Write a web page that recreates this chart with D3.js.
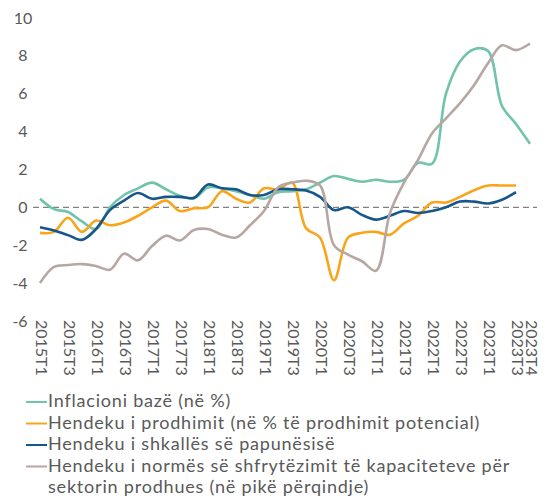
<!DOCTYPE html>
<html>
<head>
<meta charset="utf-8">
<script src="https://cdn.jsdelivr.net/npm/d3@7"></script>
<style>
  body { margin: 0; background: #fff; }
  svg { display: block; font-family: Lato, "Open Sans", sans-serif; }
</style>
</head>
<body>
<div id="chart"><svg></svg></div>
<script>
var quarters = ["2015T1","2015T2","2015T3","2015T4","2016T1","2016T2","2016T3","2016T4",
    "2017T1","2017T2","2017T3","2017T4","2018T1","2018T2","2018T3","2018T4",
    "2019T1","2019T2","2019T3","2019T4","2020T1","2020T2","2020T3","2020T4",
    "2021T1","2021T2","2021T3","2021T4","2022T1","2022T2","2022T3","2022T4",
    "2023T1","2023T2","2023T3","2023T4"];

var tickLabels = ["2015T1","2015T3","2016T1","2016T3","2017T1","2017T3","2018T1","2018T3",
    "2019T1","2019T3","2020T1","2020T3","2021T1","2021T3","2022T1","2022T3",
    "2023T1","2023T3","2023T4"];

var yTicks = [-6, -4, -2, 0, 2, 4, 6, 8, 10];

var inflacioni = [0.45, -0.1, -0.25, -0.75, -1.15, 0.0, 0.65, 1.0, 1.3, 0.95, 0.6, 0.47,
    1.05, 1.0, 0.85, 0.65, 0.45, 0.8, 0.85, 0.95, 1.3, 1.65, 1.5, 1.35,
    1.45, 1.35, 1.45, 2.35, 2.3, 6.0, 7.7, 8.35, 8.25, 5.35, 4.4, 3.35];

var hendekuProdhimit = [-1.35, -1.3, -0.55, -1.3, -0.7, -0.95, -0.8, -0.45, 0.0, 0.35, -0.2, -0.05,
    0.0, 0.85, 0.45, 0.25, 1.0, 0.95, 1.3, -1.1, -1.6, -3.85, -1.6, -1.35,
    -1.3, -1.45, -0.85, -0.45, 0.25, 0.25, 0.55, 0.9, 1.15, 1.15, 1.15];

var hendekuPapunesise = [-1.05, -1.22, -1.47, -1.72, -1.15, -0.15, 0.35, 0.75, 0.45, 0.55, 0.55, 0.5,
    1.2, 1.0, 0.95, 0.65, 0.65, 0.95, 0.95, 0.88, 0.55, -0.15, 0.0, -0.4,
    -0.65, -0.45, -0.2, -0.3, -0.2, 0.0, 0.3, 0.3, 0.2, 0.4, 0.8];

var hendekuKapaciteteve = [-4.0, -3.15, -3.05, -3.0, -3.1, -3.3, -2.45, -2.8, -2.05, -1.5, -1.75, -1.2,
    -1.15, -1.45, -1.6, -0.95, -0.2, 1.05, 1.3, 1.4, 1.15, -2.0, -2.5, -2.85,
    -3.35, -0.3, 1.3, 2.5, 3.9, 4.7, 5.5, 6.45, 7.6, 8.55, 8.3, 8.65];

var seriesNames = [
    ["Inflacioni bazë (në %)"],
    ["Hendeku i prodhimit (në % të prodhimit potencial)"],
    ["Hendeku i shkallës së papunësisë"],
    ["Hendeku i normës së shfrytëzimit të kapaciteteve për", "sektorin prodhues (në pikë përqindje)"]
];
var seriesColors = ["#72c3ab", "#f9a51c", "#17568a", "#b6a7a3"];

var width = 547,
    height = 501;

var series = [inflacioni, hendekuProdhimit, hendekuPapunesise, hendekuKapaciteteve].map(function(values, i) {
    return { name: seriesNames[i], color: seriesColors[i], values: values };
});

var svg = d3.select("#chart svg")
    .attr("width", width)
    .attr("height", height);

var x = d3.scalePoint()
    .domain(quarters)
    .range([33, 537])
    .padding(0.5);

var y = d3.scaleLinear()
    .domain([-6, 10])
    .range([320.9, 17.9]);

// y labels, no axis line
svg.append("g")
    .selectAll("text")
    .data(yTicks)
    .enter()
    .append("text")
        .attr("x", d => d < 0 ? 20 : 23)
        .attr("y", d => y(d))
        .attr("dy", "0.35em")
        .attr("text-anchor", "middle")
        .style("font-size", "16px")
        .style("fill", "#595959")
        .text(d => d);

// dashed zero line
svg.append("line")
    .attr("x1", 33)
    .attr("x2", 537)
    .attr("y1", y(0))
    .attr("y2", y(0))
    .style("stroke", "#808080")
    .style("stroke-width", 1.2)
    .style("stroke-dasharray", "6,4");

// rotated quarter labels
svg.append("g")
    .selectAll("text")
    .data(tickLabels)
    .enter()
    .append("text")
        .attr("transform", d => "translate(" + (x(d) + 2) + ",320) rotate(90)")
        .attr("dy", "0.35em")
        .style("font-size", "16px")
        .style("fill", "#595959")
        .text(d => d);

var line = d3.line()
    .x((d, i) => x(quarters[i]))
    .y(d => y(d))
    .curve(d3.curveCatmullRom.alpha(0.5));

svg.append("g")
    .selectAll("path")
    .data(series)
    .enter()
    .append("path")
        .attr("d", d => line(d.values))
        .style("fill", "none")
        .style("stroke", d => d.color)
        .style("stroke-width", 2.6)
        .style("stroke-linejoin", "round");

// legend (tight rows like the original)
var lineHeight = 21.5;
var legend = svg.append("g");
var row = 0;
series.forEach(function(s) {
    var y0 = 407 + row * lineHeight;
    legend.append("line")
        .attr("x1", 26)
        .attr("x2", 47)
        .attr("y1", y0 - 5)
        .attr("y2", y0 - 5)
        .style("stroke", s.color)
        .style("stroke-width", 2);
    s.name.forEach(function(t, j) {
        legend.append("text")
            .attr("x", 48)
            .attr("y", y0 + j * lineHeight)
            .style("font-size", "18px")
            .style("letter-spacing", "0.8px")
            .style("fill", "#595959")
            .text(t);
    });
    row += s.name.length;
});
</script>
</body>
</html>
